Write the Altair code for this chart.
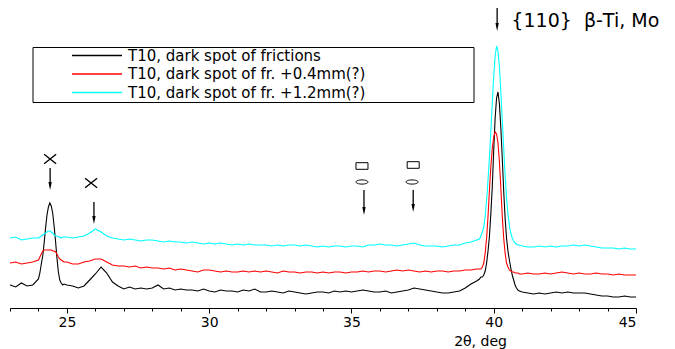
import altair as alt
import pandas as pd


def seg(start, stop, step):
    n = int(round((stop - start) / step)) + 1
    return [round(start + i * step, 2) for i in range(n)]


# 2-theta sampling grid (deg): coarse on the background, fine across the peaks
two_theta = (seg(23.0, 23.8, 0.2) + seg(24.0, 24.9, 0.05) + seg(25.0, 39.4, 0.2)
             + seg(39.5, 40.9, 0.05) + seg(41.0, 45.0, 0.2))

series_names = ["T10, dark spot of frictions",
                "T10, dark spot of fr. +0.4mm(?)",
                "T10, dark spot of fr. +1.2mm(?)"]
series_colors = ["#000000", "#ff0000", "#00ffff"]

# intensities (arb. units)
black = [23, 21, 25, 22, 23,
         29, 35, 44, 52, 65, 80, 93, 101, 105, 102, 95, 82, 67, 50, 36, 28, 25, 23, 24,
         23, 22, 20, 22, 28, 34, 41, 35, 26, 22,
         19, 21, 19, 20, 19, 20, 23, 19, 20, 18,
         19, 18, 18, 17, 19, 17, 16, 18, 17, 17,
         16, 18, 17, 19, 16, 16, 17, 16, 15, 17,
         16, 15, 14, 15, 16, 16, 15, 17, 16, 17,
         16, 17, 18, 17, 16, 16, 17, 15, 16, 17,
         18, 20, 19, 18, 17, 16, 15, 15, 16, 17,
         20, 24, 27,
         29, 31, 31, 33, 37, 45, 57, 72, 95, 122, 158, 190, 210, 216, 204, 180, 150, 117, 90, 70,
         57, 48, 40, 33, 28, 23, 20, 18, 17,
         16, 15, 14, 15, 14, 15, 16, 15, 16, 15, 15, 15, 14, 13, 12, 12, 11, 11, 12, 11, 11]

red = [45, 46, 44, 45, 46,
       48, 51, 54, 57, 58, 58, 58, 58, 58, 58, 57, 57, 56, 54, 51, 49, 48, 47, 46,
       46, 44, 44, 46, 47, 49, 49, 46, 43, 42,
       42, 41, 42, 40, 41, 40, 40, 39, 40, 38,
       39, 38, 37, 36, 38, 38, 37, 36, 37, 36,
       36, 37, 36, 37, 36, 37, 36, 35, 37, 36,
       36, 35, 36, 36, 35, 36, 35, 36, 36, 35,
       36, 36, 37, 36, 37, 37, 36, 37, 38, 37,
       38, 37, 36, 37, 36, 37, 37, 36, 37, 37,
       38, 38, 39,
       39, 39, 41, 45, 55, 70, 92, 118, 142, 160, 171, 176, 174, 165, 146, 120, 92, 70, 55, 45,
       41, 38, 37, 36, 36, 35, 35, 35, 34,
       34, 35, 34, 34, 35, 34, 35, 36, 35, 34, 35, 34, 34, 35, 34, 34, 33, 34, 33, 33, 33]

cyan = [70, 71, 68, 69, 70,
        70, 71, 72, 73, 74, 75, 76, 77, 77, 76, 75, 73, 72, 72, 71, 71, 70, 71, 71,
        71, 70, 71, 72, 75, 79, 76, 72, 70, 69,
        68, 69, 68, 67, 68, 68, 67, 66, 67, 66,
        66, 65, 66, 65, 64, 65, 64, 65, 64, 63,
        64, 63, 64, 63, 63, 63, 62, 63, 62, 63,
        63, 62, 63, 62, 61, 62, 61, 62, 62, 61,
        62, 62, 61, 63, 63, 64, 63, 63, 62, 63,
        64, 65, 63, 62, 62, 62, 61, 62, 63, 63,
        65, 66, 68,
        69, 72, 76, 81, 92, 108, 128, 151, 178, 205, 232, 252, 262, 257, 241, 216, 188, 160, 133, 110,
        94, 82, 75, 70, 67, 65, 64, 63, 63,
        62, 61, 61, 62, 61, 62, 61, 62, 62, 63, 62, 63, 62, 61, 60, 60, 60, 59, 60, 59, 59]

for arr in (black, red, cyan):
    assert len(arr) == len(two_theta), (len(arr), len(two_theta))

# annotation anchors (deg, intensity)
cross_x = [24.41, 25.85]
cross_y = [149, 125]
arrow_x = [24.41, 25.95, 35.44, 37.17, 40.12]
arrow_top = [140, 106, 118, 118, 300]
arrow_tip = [118, 84, 93, 96, 277]
square_x = [35.37, 37.17]
square_y = [142, 143]
ellipse_x = [35.37, 37.13]
ellipse_y = [126, 126]
peak_label = "{110}\u00a0\u00a0\u03b2-Ti, Mo"
peak_label_x = 40.62
peak_label_y = 287

FONT = "DejaVu Sans"

x_axis = alt.Axis(
    values=list(range(23, 46)),
    labelExpr="datum.value % 5 === 0 ? datum.label : ''",
    tickSize={"condition": {"test": "datum.value % 5 === 0", "value": 5}, "value": 3},
    grid=False,
    domainColor="black", tickColor="black", tickWidth=1, domainWidth=1,
    labelColor="black", labelFont=FONT, labelFontSize=14, labelPadding=2,
    title="2\u03b8, deg", titleFont=FONT, titleFontSize=14, titleFontWeight="normal",
    titleColor="black", titleX=470, titleY=37, titleAlign="center",
    titleBaseline="alphabetic",
)
x_scale = alt.Scale(domain=[23, 45], nice=False, zero=False)
y_scale = alt.Scale(domain=[0, 300], nice=False, zero=False)
color_scale = alt.Scale(domain=series_names, range=series_colors)


def X(field):
    return alt.X(field, type="quantitative", scale=x_scale, axis=x_axis)


def Y(field):
    return alt.Y(field, type="quantitative", scale=y_scale, axis=None)


layers = []
for name, vals in zip(series_names, (black, red, cyan)):
    df = pd.DataFrame({"two_theta": two_theta, "intensity": vals, "series": name})
    layers.append(
        alt.Chart(df).mark_line(strokeWidth=1.1).encode(
            x=X("two_theta"), y=Y("intensity"),
            color=alt.Color("series:N", scale=color_scale, legend=None),
        )
    )

arrows_df = pd.DataFrame({"x": arrow_x, "top": arrow_top, "tip": arrow_tip})
arrows_df["head"] = arrows_df["tip"] + 4
layers.append(alt.Chart(arrows_df).mark_rule(color="black", strokeWidth=1.3).encode(
    x=X("x"), y=Y("top"), y2="head"))
layers.append(alt.Chart(arrows_df).mark_point(
    shape="M-0.42,-1L0.42,-1L0,1Z", filled=True, size=64, color="black", opacity=1).encode(
    x=X("x"), y=Y("head")))

cross_df = pd.DataFrame({"x": cross_x, "y": cross_y})
layers.append(alt.Chart(cross_df).mark_point(
    shape="M-1,-0.8L1,0.8M-1,0.8L1,-0.8", filled=False, size=144, color="black",
    strokeWidth=1.4, opacity=1).encode(x=X("x"), y=Y("y")))

square_df = pd.DataFrame({"x": square_x, "y": square_y})
layers.append(alt.Chart(square_df).mark_point(
    shape="M-1,-0.55H1V0.55H-1Z", filled=False, size=144, color="black",
    strokeWidth=1, opacity=1).encode(x=X("x"), y=Y("y")))

ellipse_df = pd.DataFrame({"x": ellipse_x, "y": ellipse_y})
layers.append(alt.Chart(ellipse_df).mark_point(
    shape="M-1,0A1,0.35 0 1,0 1,0A1,0.35 0 1,0 -1,0Z", filled=False, size=144,
    color="black", strokeWidth=1, opacity=1).encode(x=X("x"), y=Y("y")))

label_df = pd.DataFrame({"x": [peak_label_x], "y": [peak_label_y], "t": [peak_label]})
layers.append(alt.Chart(label_df).mark_text(
    align="left", baseline="middle", font=FONT, fontSize=19, color="black").encode(
    x=X("x"), y=Y("y"), text="t:N"))

# legend box (drawn by hand to match the original layout)
one = pd.DataFrame({"k": [0]})
layers.append(alt.Chart(one).mark_rect(fill="white", fillOpacity=0, stroke="black", strokeWidth=1).encode(
    x=alt.value(23), x2=alt.value(464), y=alt.value(39.5), y2=alt.value(94.5)))
row_y = [47.5, 66, 84.5]
for name, col, yy in zip(series_names, series_colors, row_y):
    layers.append(alt.Chart(one).mark_rule(color=col, strokeWidth=1.5).encode(
        x=alt.value(62), x2=alt.value(112), y=alt.value(yy)))
    layers.append(alt.Chart(one).mark_text(
        align="left", baseline="middle", font=FONT, fontSize=15, color="black").encode(
        x=alt.value(118), y=alt.value(yy), text=alt.value(name)))

chart = alt.layer(*layers).properties(
    width=626, height=300,
    padding={"left": 2, "top": 0, "right": 31, "bottom": 41},
    autosize=alt.AutoSizeParams(type="none"),
    background="white",
).configure_view(strokeWidth=0)

chart.save("out.html", embed_options={"renderer": "svg", "actions": False})
